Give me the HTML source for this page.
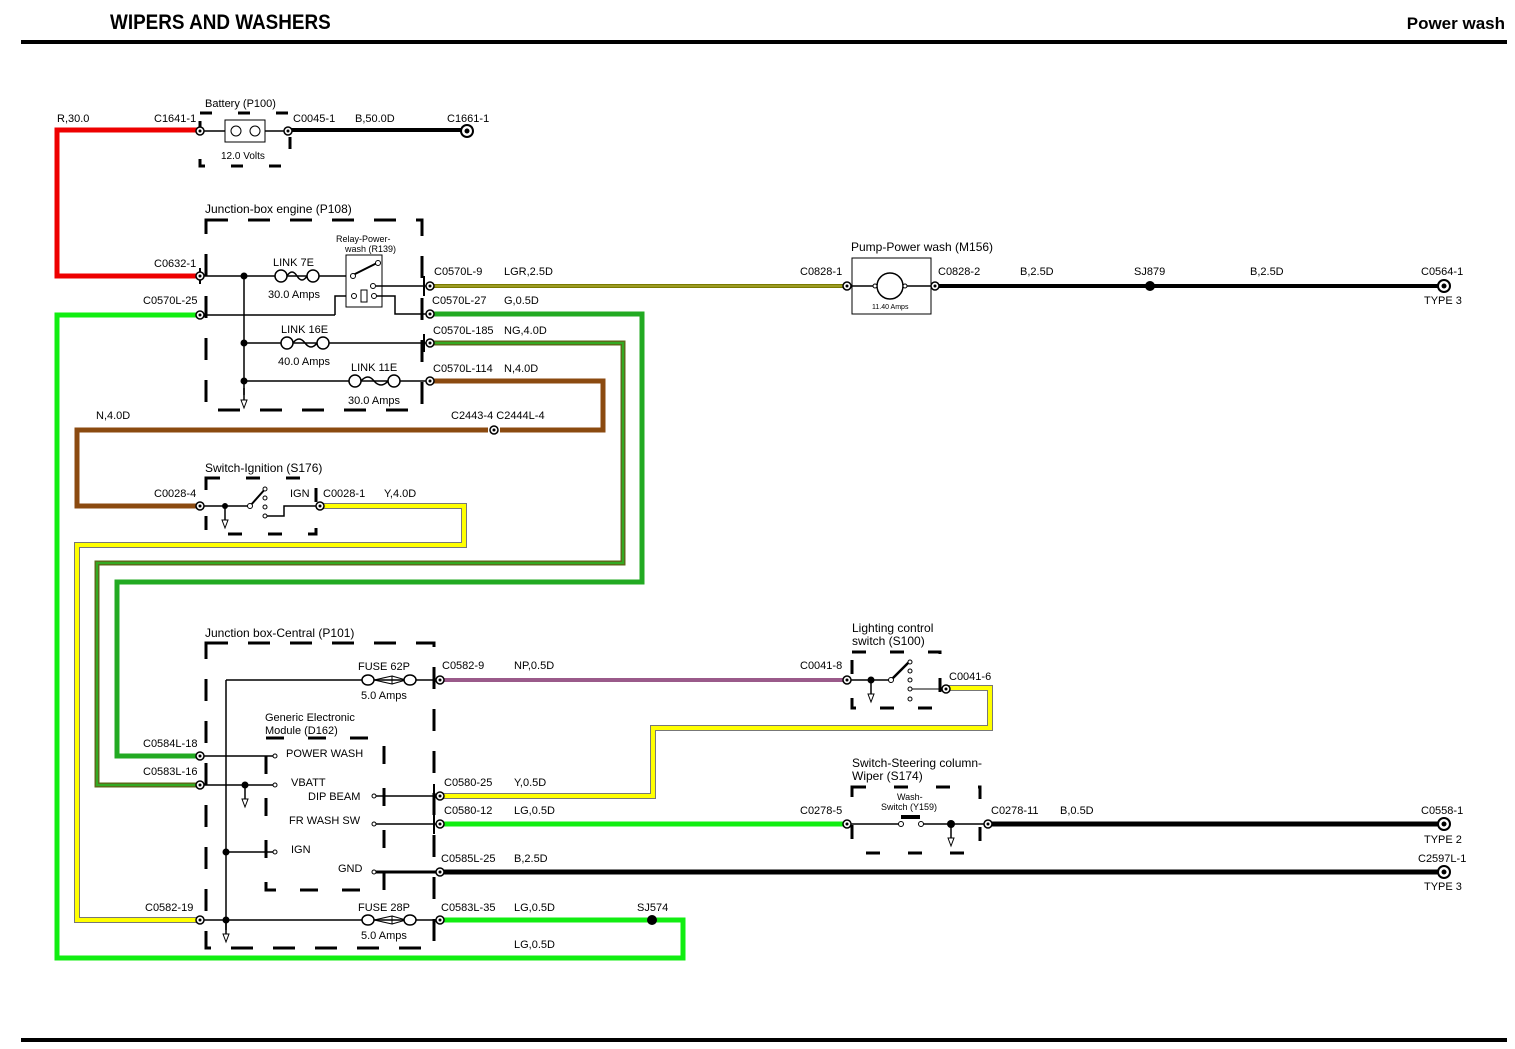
<!DOCTYPE html>
<html><head><meta charset="utf-8"><style>
body{margin:0;background:#fff}
svg{display:block;font-family:"Liberation Sans",sans-serif}
text{font-size:11px;fill:#000}
.w{fill:none;stroke-linejoin:miter}
.k{stroke:#000;fill:none;stroke-width:1.5}
.db{fill:none;stroke:#000;stroke-width:3;stroke-dasharray:22 20}
</style></head><body>
<svg width="1515" height="1049" viewBox="0 0 1515 1049" xmlns="http://www.w3.org/2000/svg">
<defs>
<g id="c"><circle r="4" fill="#fff" stroke="#000" stroke-width="1.5"/><circle r="1.5" fill="#000"/></g>
<g id="gnd"><line x1="0" y1="0" x2="0" y2="14" stroke="#000" stroke-width="1.5"/><path d="M-3,12 L0,20 L3,12 Z" fill="#fff" stroke="#000"/></g>
</defs>
<text x="110" y="29" transform="translate(110 0) scale(0.9 1) translate(-110 0)" style="font-size:21px;font-weight:bold">WIPERS AND WASHERS</text>
<text x="1505" y="29" text-anchor="end" style="font-size:17px;font-weight:bold">Power wash</text>
<rect x="21" y="40" width="1486" height="4" fill="#000"/>
<rect x="21" y="1038" width="1486" height="4" fill="#000"/>

<!-- colored wires -->
<path class="w" d="M200,130 H57 V276 H200" stroke="#ee0000" stroke-width="5"/>
<path class="w" d="M200,315 H57 V958 H683 V920 H440" stroke="#11ee11" stroke-width="5"/>
<path class="w" d="M430,314 H642 V582 H117 V756 H200" stroke="#22aa22" stroke-width="5"/>
<path class="w" d="M430,343 H623 V563 H97 V785 H200" stroke="#5a6b1a" stroke-width="5"/>
<path class="w" d="M430,343 H623 V563 H97 V785 H200" stroke="#33aa22" stroke-width="2"/>
<path class="w" d="M430,381 H603 V430 H500 M488,430 H77 V506 H200" stroke="#8b4a10" stroke-width="5"/>
<path class="w" d="M320,506 H464 V545 H77 V920 H200" stroke="#777" stroke-width="6"/>
<path class="w" d="M320,506 H464 V545 H77 V920 H200" stroke="#ffff00" stroke-width="4"/>
<path class="w" d="M430,286 H847" stroke="#7a7a00" stroke-width="4"/>
<path class="w" d="M430,286 H847" stroke="#a8a830" stroke-width="1.5"/>
<path class="w" d="M440,680 H847" stroke="#9a5a8a" stroke-width="4"/>
<path class="w" d="M440,796 H653 V728 H990 V688 H948" stroke="#777" stroke-width="6"/>
<path class="w" d="M440,796 H653 V728 H990 V688 H948" stroke="#ffff00" stroke-width="4"/>
<path class="w" d="M440,824 H847" stroke="#11ee11" stroke-width="5"/>
<path class="w" d="M290,130 H462" stroke="#000" stroke-width="4"/>
<path class="w" d="M935,286 H1440" stroke="#000" stroke-width="4"/>
<path class="w" d="M990,824 H1440 M440,872 H1440" stroke="#000" stroke-width="5"/>
<circle cx="1150" cy="286" r="5" fill="#000"/>
<circle cx="652" cy="920" r="5" fill="#000"/>

<!-- battery -->
<text x="205" y="107">Battery (P100)</text>
<rect x="200" y="113" width="90" height="53" class="db" style="stroke-dasharray:12 26"/>
<rect x="225" y="120" width="40" height="22" fill="#fff" stroke="#000"/>
<circle cx="236" cy="131" r="5" fill="#fff" stroke="#000"/><circle cx="255" cy="131" r="5" fill="#fff" stroke="#000"/>
<line x1="200" y1="131" x2="225" y2="131" stroke="#000" stroke-width="1.5"/><line x1="265" y1="131" x2="290" y2="131" stroke="#000" stroke-width="1.5"/>
<text x="221" y="159" style="font-size:10px">12.0 Volts</text>
<use href="#c" x="200" y="131"/><use href="#c" x="288" y="131"/>
<circle cx="467" cy="131" r="6" fill="#fff" stroke="#000" stroke-width="2"/><circle cx="467" cy="131" r="2.5" fill="#000"/>
<text x="57" y="122">R,30.0</text><text x="154" y="122">C1641-1</text><text x="293" y="122">C0045-1</text><text x="355" y="122">B,50.0D</text><text x="447" y="122">C1661-1</text>

<!-- junction box engine -->
<text x="205" y="213" style="font-size:12px">Junction-box engine (P108)</text>
<rect x="206" y="220" width="216" height="190" class="db"/>
<line x1="200" y1="268" x2="200" y2="284" stroke="#000" stroke-width="2"/>
<line x1="200" y1="276" x2="350" y2="276" class="k"/>
<circle cx="281" cy="276" r="6" fill="#fff" stroke="#000" stroke-width="1.5"/><circle cx="313" cy="276" r="6" fill="#fff" stroke="#000" stroke-width="1.5"/>
<path d="M287,276 Q292,268 297,276 Q302,284 307,276" fill="none" stroke="#000" stroke-width="1.5"/>
<text x="273" y="266">LINK 7E</text><text x="268" y="298">30.0 Amps</text>
<line x1="244" y1="276" x2="244" y2="395" class="k"/>
<circle cx="244" cy="276" r="3.5"/><circle cx="244" cy="343" r="3.5"/><circle cx="244" cy="381" r="3.5"/>
<use href="#gnd" x="244" y="388"/>
<line x1="200" y1="315" x2="335" y2="315" class="k"/><polyline points="335,315 335,296 352,296" class="k"/>
<rect x="346" y="255" width="36" height="52" fill="#fff" stroke="#000"/>
<text x="336" y="242" style="font-size:9px">Relay-Power-</text><text x="345" y="252" style="font-size:9px">wash (R139)</text>
<line x1="353" y1="275" x2="377" y2="263" stroke="#000" stroke-width="2"/>
<circle cx="353" cy="276" r="2.5" fill="#fff" stroke="#000"/><circle cx="378" cy="263" r="2.5" fill="#fff" stroke="#000"/>
<circle cx="373" cy="286" r="2.5" fill="#fff" stroke="#000"/><circle cx="354" cy="296" r="2.5" fill="#fff" stroke="#000"/><circle cx="374" cy="296" r="2.5" fill="#fff" stroke="#000"/>
<rect x="361" y="290" width="6" height="12" fill="#fff" stroke="#000"/>
<line x1="376" y1="286" x2="430" y2="286" class="k"/><polyline points="376,296 395,296 395,314 430,314" class="k"/>
<line x1="244" y1="343" x2="430" y2="343" class="k"/>
<circle cx="287" cy="343" r="6" fill="#fff" stroke="#000" stroke-width="1.5"/><circle cx="323" cy="343" r="6" fill="#fff" stroke="#000" stroke-width="1.5"/>
<path d="M293,343 Q299,335 305,343 Q311,351 317,343" fill="none" stroke="#000" stroke-width="1.5"/>
<text x="281" y="333">LINK 16E</text><text x="278" y="365">40.0 Amps</text>
<line x1="244" y1="381" x2="430" y2="381" class="k"/>
<circle cx="355" cy="381" r="6" fill="#fff" stroke="#000" stroke-width="1.5"/><circle cx="394" cy="381" r="6" fill="#fff" stroke="#000" stroke-width="1.5"/>
<path d="M361,381 Q368,373 374,381 Q381,389 388,381" fill="none" stroke="#000" stroke-width="1.5"/>
<text x="351" y="371">LINK 11E</text><text x="348" y="404">30.0 Amps</text>
<line x1="424" y1="276" x2="424" y2="296" stroke="#000" stroke-width="2"/>
<line x1="424" y1="334" x2="424" y2="352" stroke="#000" stroke-width="2"/>
<use href="#c" x="200" y="276"/><use href="#c" x="200" y="315"/>
<use href="#c" x="430" y="286"/><use href="#c" x="430" y="314"/><use href="#c" x="430" y="343"/><use href="#c" x="430" y="381"/>
<text x="154" y="267">C0632-1</text><text x="143" y="304">C0570L-25</text>
<text x="434" y="275">C0570L-9</text><text x="504" y="275">LGR,2.5D</text>
<text x="432" y="304">C0570L-27</text><text x="504" y="304">G,0.5D</text>
<text x="433" y="334">C0570L-185</text><text x="504" y="334">NG,4.0D</text>
<text x="433" y="372">C0570L-114</text><text x="504" y="372">N,4.0D</text>
<text x="96" y="419">N,4.0D</text><text x="451" y="419">C2443-4 C2444L-4</text>
<use href="#c" x="494" y="430"/>

<!-- ignition switch -->
<text x="205" y="472" style="font-size:12px">Switch-Ignition (S176)</text>
<rect x="206" y="478" width="110" height="56" class="db" style="stroke-dasharray:14 26"/>
<line x1="200" y1="506" x2="250" y2="506" class="k"/><circle cx="225" cy="506" r="3"/><use href="#gnd" x="225" y="508"/>
<line x1="250" y1="506" x2="266" y2="488" stroke="#000" stroke-width="2"/>
<circle cx="250" cy="506" r="2.5" fill="#fff" stroke="#000"/>
<circle cx="265" cy="489" r="2" fill="#fff" stroke="#000"/><circle cx="265" cy="498" r="2" fill="#fff" stroke="#000"/><circle cx="265" cy="507" r="2" fill="#fff" stroke="#000"/><circle cx="265" cy="516" r="2" fill="#fff" stroke="#000"/>
<polyline points="267,516 284,516 284,506 320,506" class="k"/>
<text x="290" y="497">IGN</text>
<use href="#c" x="200" y="506"/><use href="#c" x="320" y="506"/>
<text x="154" y="497">C0028-4</text><text x="323" y="497">C0028-1</text><text x="384" y="497">Y,4.0D</text>

<!-- pump -->
<text x="851" y="251" style="font-size:12px">Pump-Power wash (M156)</text>
<rect x="852" y="258" width="79" height="56" fill="#fff" stroke="#000"/>
<circle cx="890" cy="286" r="13" fill="#fff" stroke="#000" stroke-width="1.5"/>
<circle cx="875" cy="286" r="2" fill="#fff" stroke="#000"/><circle cx="905" cy="286" r="2" fill="#fff" stroke="#000"/>
<text x="872" y="309" style="font-size:7px">11.40 Amps</text>
<line x1="847" y1="286" x2="873" y2="286" class="k"/><line x1="907" y1="286" x2="935" y2="286" class="k"/>
<use href="#c" x="847" y="286"/><use href="#c" x="935" y="286"/>
<text x="800" y="275">C0828-1</text><text x="938" y="275">C0828-2</text><text x="1020" y="275">B,2.5D</text>
<text x="1134" y="275">SJ879</text><text x="1250" y="275">B,2.5D</text><text x="1421" y="275">C0564-1</text><text x="1424" y="304">TYPE 3</text>
<circle cx="1444" cy="286" r="6" fill="#fff" stroke="#000" stroke-width="2"/><circle cx="1444" cy="286" r="2.5"/>

<!-- junction box central -->
<text x="205" y="637" style="font-size:12px">Junction box-Central (P101)</text>
<rect x="206" y="643" width="228" height="305" class="db"/>
<line x1="226" y1="680" x2="226" y2="930" class="k"/>
<line x1="226" y1="680" x2="440" y2="680" class="k"/>
<ellipse cx="368" cy="680" rx="6" ry="5" fill="#fff" stroke="#000" stroke-width="1.5"/><path d="M374,680 L392,676 V684 Z" fill="none" stroke="#000"/><path d="M392,676 L406,680 L392,684" fill="none" stroke="#000"/><ellipse cx="410" cy="680" rx="6" ry="5" fill="#fff" stroke="#000" stroke-width="1.5"/>
<text x="358" y="670">FUSE 62P</text><text x="361" y="699">5.0 Amps</text>
<text x="265" y="721">Generic Electronic</text><text x="265" y="734">Module (D162)</text>
<rect x="266" y="738" width="118" height="152" class="db" style="stroke-dasharray:18 24"/>
<line x1="200" y1="756" x2="275" y2="756" class="k"/><circle cx="275" cy="756" r="2" fill="#fff" stroke="#000"/><text x="286" y="757">POWER WASH</text>
<line x1="200" y1="785" x2="275" y2="785" class="k"/><circle cx="275" cy="785" r="2" fill="#fff" stroke="#000"/><text x="291" y="786">VBATT</text>
<circle cx="245" cy="785" r="3.5"/><use href="#gnd" x="245" y="787"/>
<text x="308" y="800">DIP BEAM</text><circle cx="374" cy="796" r="2" fill="#fff" stroke="#000"/><line x1="376" y1="796" x2="440" y2="796" class="k"/>
<text x="289" y="824">FR WASH SW</text><circle cx="374" cy="824" r="2" fill="#fff" stroke="#000"/><line x1="376" y1="824" x2="440" y2="824" class="k"/>
<circle cx="226" cy="852" r="3.5"/><line x1="226" y1="852" x2="275" y2="852" class="k"/><circle cx="275" cy="852" r="2" fill="#fff" stroke="#000"/><text x="291" y="853">IGN</text>
<text x="338" y="872">GND</text><circle cx="374" cy="872" r="2" fill="#fff" stroke="#000"/><line x1="376" y1="872" x2="440" y2="872" stroke="#000" stroke-width="3"/>
<line x1="200" y1="920" x2="440" y2="920" class="k"/><circle cx="226" cy="920" r="3.5"/><use href="#gnd" x="226" y="922"/>
<ellipse cx="368" cy="920" rx="6" ry="5" fill="#fff" stroke="#000" stroke-width="1.5"/><path d="M374,920 L392,916 V924 Z" fill="none" stroke="#000"/><path d="M392,916 L406,920 L392,924" fill="none" stroke="#000"/><ellipse cx="410" cy="920" rx="6" ry="5" fill="#fff" stroke="#000" stroke-width="1.5"/>
<text x="358" y="911">FUSE 28P</text><text x="361" y="939">5.0 Amps</text>
<line x1="434" y1="784" x2="434" y2="834" stroke="#000" stroke-width="2"/>
<use href="#c" x="440" y="680"/><use href="#c" x="200" y="756"/><use href="#c" x="200" y="785"/><use href="#c" x="440" y="796"/><use href="#c" x="440" y="824"/><use href="#c" x="440" y="872"/><use href="#c" x="200" y="920"/><use href="#c" x="440" y="920"/>
<text x="442" y="669">C0582-9</text><text x="514" y="669">NP,0.5D</text>
<text x="143" y="747">C0584L-18</text><text x="143" y="775">C0583L-16</text>
<text x="444" y="786">C0580-25</text><text x="514" y="786">Y,0.5D</text>
<text x="444" y="814">C0580-12</text><text x="514" y="814">LG,0.5D</text>
<text x="441" y="862">C0585L-25</text><text x="514" y="862">B,2.5D</text>
<text x="145" y="911">C0582-19</text><text x="441" y="911">C0583L-35</text><text x="514" y="911">LG,0.5D</text><text x="637" y="911">SJ574</text>
<text x="514" y="948">LG,0.5D</text>

<!-- lighting switch -->
<text x="852" y="632" style="font-size:12px">Lighting control</text><text x="852" y="645" style="font-size:12px">switch (S100)</text>
<rect x="852" y="652" width="88" height="56" class="db" style="stroke-dasharray:14 24"/>
<line x1="847" y1="680" x2="891" y2="680" class="k"/><circle cx="871" cy="680" r="3.5"/><use href="#gnd" x="871" y="682"/>
<line x1="891" y1="680" x2="910" y2="661" stroke="#000" stroke-width="2.5"/><circle cx="891" cy="680" r="2.5" fill="#fff" stroke="#000"/>
<circle cx="910" cy="662" r="2" fill="#fff" stroke="#000"/><circle cx="910" cy="671" r="2" fill="#fff" stroke="#000"/><circle cx="910" cy="680" r="2" fill="#fff" stroke="#000"/><circle cx="910" cy="689" r="2" fill="#fff" stroke="#000"/><circle cx="910" cy="699" r="2" fill="#fff" stroke="#000"/>
<line x1="912" y1="689" x2="946" y2="689" stroke="#000"/>
<use href="#c" x="847" y="680"/><use href="#c" x="946" y="689"/>
<text x="800" y="669">C0041-8</text><text x="949" y="680">C0041-6</text>

<!-- steering column switch -->
<text x="852" y="767" style="font-size:12px">Switch-Steering column-</text><text x="852" y="780" style="font-size:12px">Wiper (S174)</text>
<rect x="852" y="787" width="128" height="66" class="db" style="stroke-dasharray:14 28"/>
<text x="897" y="800" style="font-size:9px">Wash-</text><text x="881" y="810" style="font-size:9px">Switch (Y159)</text>
<rect x="901" y="815" width="19" height="4" fill="#000"/>
<line x1="847" y1="824" x2="901" y2="824" class="k"/><circle cx="901" cy="824" r="2.5" fill="#fff" stroke="#000"/>
<circle cx="921" cy="824" r="2.5" fill="#fff" stroke="#000"/><line x1="923" y1="824" x2="990" y2="824" class="k"/>
<circle cx="951" cy="824" r="4"/><use href="#gnd" x="951" y="826"/>
<use href="#c" x="847" y="824"/><use href="#c" x="988" y="824"/>
<text x="800" y="814">C0278-5</text><text x="991" y="814">C0278-11</text><text x="1060" y="814">B,0.5D</text>
<text x="1421" y="814">C0558-1</text><text x="1424" y="843">TYPE 2</text>
<circle cx="1444" cy="824" r="6" fill="#fff" stroke="#000" stroke-width="2"/><circle cx="1444" cy="824" r="2.5"/>
<text x="1418" y="862">C2597L-1</text><text x="1424" y="890">TYPE 3</text>
<circle cx="1444" cy="872" r="6" fill="#fff" stroke="#000" stroke-width="2"/><circle cx="1444" cy="872" r="2.5"/>
</svg>
</body></html>
